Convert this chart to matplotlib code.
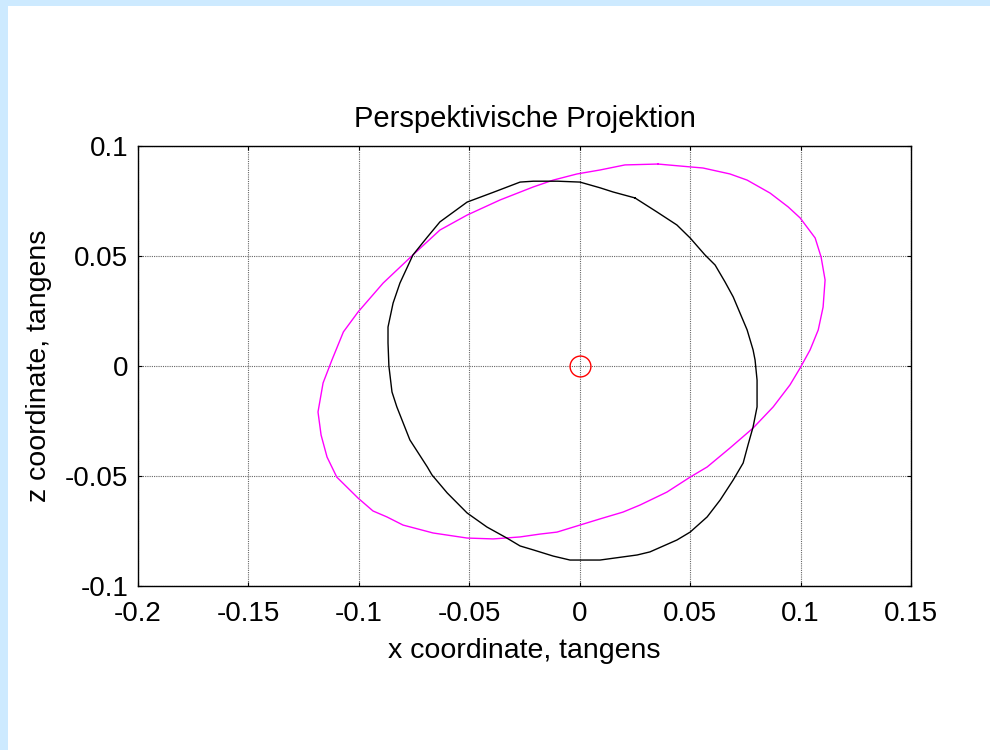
import matplotlib
matplotlib.use('Agg')
import matplotlib.pyplot as plt
from matplotlib.patches import Rectangle

plt.rcParams['font.family'] = ['Liberation Sans', 'DejaVu Sans']
plt.rcParams['axes.unicode_minus'] = False

# projected outline of the object (black)
outline_x = [0.0250, 0.0151, 0.0092, 0.0001, -0.0100, -0.0210, -0.0270, -0.0390, -0.0510,
             -0.0633, -0.0690, -0.0755, -0.0814, -0.0845, -0.0868, -0.0868, -0.0864, -0.0850,
             -0.0828, -0.0769, -0.0690, -0.0669, -0.0600, -0.0510, -0.0420, -0.0330, -0.0270,
             -0.0210, -0.0120, -0.0044, 0.0092, 0.0260, 0.0318, 0.0440, 0.0500, 0.0577,
             0.0636, 0.0695, 0.0740, 0.0762, 0.0785, 0.0803, 0.0803, 0.0794, 0.0785,
             0.0758, 0.0695, 0.0658, 0.0613, 0.0567, 0.0500, 0.0440, 0.0350, 0.0250]
outline_z = [0.0764, 0.0791, 0.0810, 0.0836, 0.0840, 0.0840, 0.0836, 0.0790, 0.0745,
             0.0655, 0.0586, 0.0505, 0.0377, 0.0286, 0.0177, 0.0105, 0.0000, -0.0118,
             -0.0186, -0.0336, -0.0459, -0.0495, -0.0577, -0.0668, -0.0732, -0.0782, -0.0818,
             -0.0836, -0.0864, -0.0882, -0.0882, -0.0859, -0.0845, -0.0791, -0.0755, -0.0686,
             -0.0609, -0.0518, -0.0441, -0.0359, -0.0277, -0.0186, -0.0064, 0.0027, 0.0073,
             0.0164, 0.0314, 0.0382, 0.0459, 0.0505, 0.0582, 0.0641, 0.0700, 0.0764]

# tilted projection (magenta)
tilted_x = [0.0354, 0.0205, 0.0092, -0.0012, -0.0120, -0.0210, -0.0360, -0.0510, -0.0633,
            -0.0755, -0.0890, -0.1004, -0.1070, -0.1122, -0.1162, -0.1185, -0.1171, -0.1144,
            -0.1100, -0.1004, -0.0936, -0.0873, -0.0800, -0.0664, -0.0510, -0.0392, -0.0270,
            -0.0180, -0.0103, -0.0012, 0.0092, 0.0196, 0.0273, 0.0395, 0.0500, 0.0577,
            0.0680, 0.0785, 0.0876, 0.0952, 0.0998, 0.1043, 0.1080, 0.1102, 0.1111,
            0.1093, 0.1066, 0.0998, 0.0944, 0.0862, 0.0758, 0.0680, 0.0558, 0.0500, 0.0354]
tilted_z = [0.0918, 0.0914, 0.0891, 0.0873, 0.0845, 0.0814, 0.0755, 0.0686, 0.0618,
            0.0505, 0.0377, 0.0245, 0.0155, 0.0027, -0.0077, -0.0209, -0.0314, -0.0414,
            -0.0505, -0.0600, -0.0659, -0.0686, -0.0723, -0.0759, -0.0782, -0.0786, -0.0777,
            -0.0764, -0.0755, -0.0727, -0.0695, -0.0664, -0.0632, -0.0573, -0.0505, -0.0459,
            -0.0373, -0.0282, -0.0186, -0.0086, -0.0009, 0.0073, 0.0164, 0.0268, 0.0391,
            0.0495, 0.0582, 0.0673, 0.0723, 0.0786, 0.0845, 0.0873, 0.0900, 0.0905, 0.0918]

# centre of view
center_x = [0.0]
center_z = [0.0]

x_ticks = [-0.2, -0.15, -0.1, -0.05, 0, 0.05, 0.1, 0.15]
x_labels = ['-0.2', '-0.15', '-0.1', '-0.05', '0', '0.05', '0.1', '0.15']
z_ticks = [-0.1, -0.05, 0, 0.05, 0.1]
z_labels = ['-0.1', '-0.05', '0', '0.05', '0.1']

fig = plt.figure(figsize=(9.9, 7.5), dpi=100)

# light blue frame on the left and top edge
fig.patches.append(Rectangle((0, 0), 8 / 990, 1, transform=fig.transFigure,
                             facecolor='#cdeaff', edgecolor='none', zorder=-1))
fig.patches.append(Rectangle((0, 1 - 6 / 750), 1, 6 / 750, transform=fig.transFigure,
                             facecolor='#cdeaff', edgecolor='none', zorder=-1))

ax = fig.add_axes([138 / 990, 164 / 750, 773 / 990, 440 / 750])

ax.plot(tilted_x, tilted_z, color='#ff00ff', lw=1.0)
ax.plot(outline_x, outline_z, color='black', lw=1.0)
ax.plot(center_x, center_z, 'o', ms=15, mfc='none', mec='red', mew=1.0)

ax.set_xlim(-0.2, 0.15)
ax.set_ylim(-0.1, 0.1)
ax.set_xticks(x_ticks)
ax.set_xticklabels(x_labels)
ax.set_yticks(z_ticks)
ax.set_yticklabels(z_labels)
ax.tick_params(direction='in', length=3, width=0.8, top=True, right=True,
               labelsize=20)
ax.tick_params(axis='x', pad=11)
ax.tick_params(axis='y', pad=7)
ax.grid(True, linestyle=(0, (1, 1)), color='0.4', linewidth=0.8)
for s in ax.spines.values():
    s.set_linewidth(1.0)

ax.set_title('Perspektivische Projektion', fontsize=21, pad=14)
ax.set_xlabel('x coordinate, tangens', fontsize=20.5, labelpad=8)
ax.set_ylabel('z coordinate, tangens', fontsize=20.5, labelpad=9)

fig.savefig('out.png', dpi=100)
